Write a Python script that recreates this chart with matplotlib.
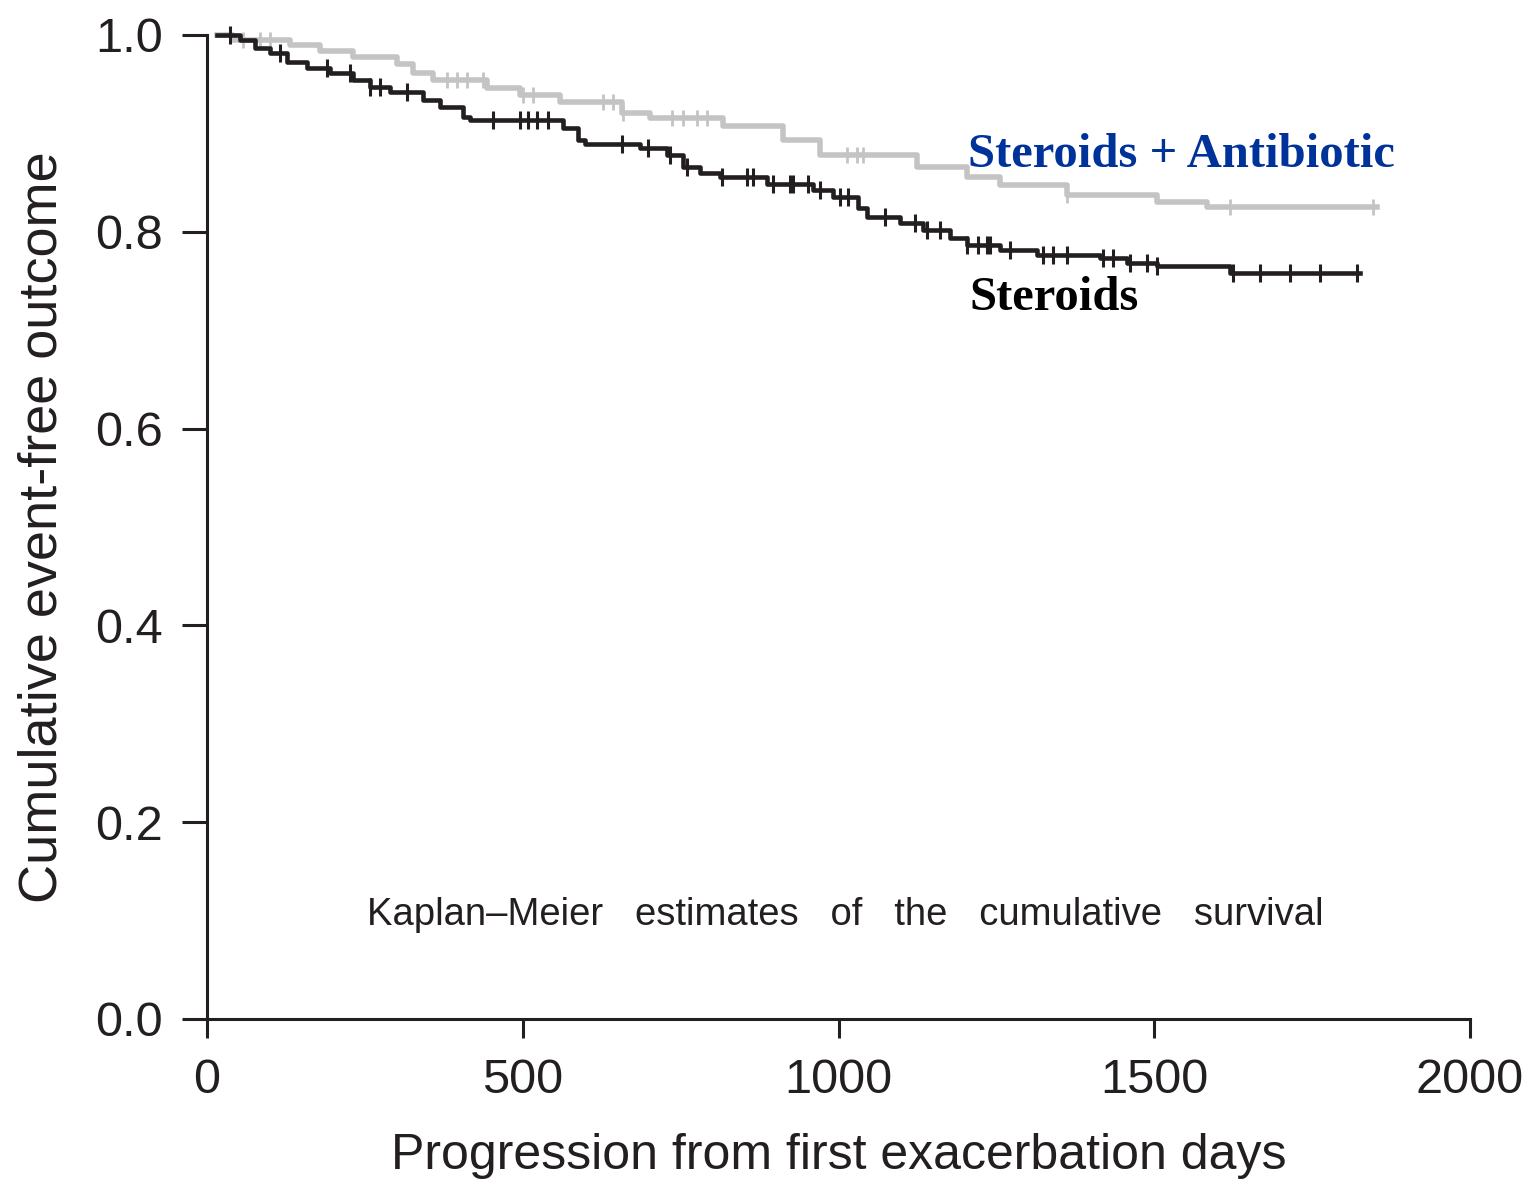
import numpy as np
import matplotlib.pyplot as plt

# Step points (time in days, survival after the step)
steroids_t = [16, 52, 76, 100, 127, 158, 195, 231, 258, 290, 342, 369, 405, 416,
              564, 587, 599, 686, 728, 754, 781, 812, 887, 960, 991, 1031, 1045,
              1097, 1134, 1177, 1203, 1256, 1314, 1414, 1457, 1504, 1620, 1826]
steroids_s = [1.0, 0.995, 0.987, 0.982, 0.973, 0.966, 0.961, 0.954, 0.947, 0.942,
              0.934, 0.927, 0.917, 0.914, 0.905, 0.893, 0.889, 0.885, 0.878, 0.866,
              0.860, 0.856, 0.849, 0.842, 0.835, 0.824, 0.815, 0.809, 0.802, 0.794,
              0.787, 0.781, 0.776, 0.773, 0.768, 0.765, 0.758, 0.758]

combo_t = [16, 41, 131, 179, 231, 301, 326, 358, 443, 496, 559, 657, 701, 817,
           912, 971, 1124, 1203, 1256, 1362, 1504, 1584, 1853]
combo_s = [1.0, 0.995, 0.990, 0.984, 0.978, 0.970, 0.961, 0.954, 0.946, 0.939,
           0.932, 0.921, 0.916, 0.907, 0.893, 0.878, 0.866, 0.856, 0.848, 0.837,
           0.830, 0.825, 0.825]

# Censoring marks
steroids_cens = [36, 116, 190, 226, 258, 274, 317, 453, 496, 508, 522, 540, 657, 698,
                 733, 760, 815, 855, 865, 896, 923, 928, 952, 971, 1003, 1015, 1074,
                 1121, 1140, 1161, 1203, 1221, 1235, 1240, 1272, 1324, 1340, 1362,
                 1419, 1435, 1462, 1488, 1504, 1625, 1667, 1715, 1762, 1821]
combo_cens = [57, 84, 100, 380, 396, 412, 437, 500, 516, 627, 643, 659, 736, 754,
              776, 792, 1013, 1029, 1039, 1362, 1620, 1846]

DARK = '#231f20'
GRAY = '#c4c4c4'

plt.rcParams['font.family'] = ['Liberation Sans', 'DejaVu Sans']


def surv_at(times, surv, x):
    idx = np.searchsorted(times, x, side='right') - 1
    return np.asarray(surv)[np.clip(idx, 0, len(surv) - 1)]


fig = plt.figure(figsize=(15.27, 11.85), dpi=100)
ax = fig.add_axes([0.1356, 0.1401, 0.8271, 0.8304])

ax.step(combo_t, combo_s, where='post', color=GRAY, lw=4, clip_on=False, zorder=2)
ax.plot(combo_cens, surv_at(combo_t, combo_s, combo_cens), ls='none', marker='|',
        ms=12, mew=2, color=GRAY, clip_on=False, zorder=2)
ax.step(steroids_t, steroids_s, where='post', color=DARK, lw=3.3, clip_on=False, zorder=3)
ax.plot(steroids_cens, surv_at(steroids_t, steroids_s, steroids_cens), ls='none',
        marker='|', ms=13, mew=2.2, color=DARK, clip_on=False, zorder=3)

ax.set_xlim(0, 2000)
ax.set_ylim(0, 1.0)
ax.set_xticks([0, 500, 1000, 1500, 2000])
ax.set_yticks([0.0, 0.2, 0.4, 0.6, 0.8, 1.0])
ax.set_yticklabels(['0.0', '0.2', '0.4', '0.6', '0.8', '1.0'])

for s in ['top', 'right']:
    ax.spines[s].set_visible(False)
for s in ['left', 'bottom']:
    ax.spines[s].set_linewidth(2.2)
    ax.spines[s].set_color(DARK)

ax.tick_params(axis='y', direction='out', length=18, width=2.2, pad=14,
               labelsize=35, colors=DARK)
ax.tick_params(axis='x', direction='out', length=14, width=2.2, pad=14,
               labelsize=35, colors=DARK)

ax.set_xlabel('Progression from first exacerbation days', fontsize=36, color=DARK,
              labelpad=22)
ax.set_ylabel('Cumulative event-free outcome', fontsize=39, color=DARK, labelpad=20)

ax.text(1205, 0.866, 'Steroids + Antibiotic', family='Liberation Serif',
        fontweight='bold', fontsize=35, color='#003399', ha='left', va='baseline')
ax.text(1208, 0.72, 'Steroids', family='Liberation Serif', fontweight='bold',
        fontsize=35, color='#000000', ha='left', va='baseline')
ax.text(1010, 0.106, 'Kaplan\u2013Meier   estimates   of   the   cumulative   survival',
        fontsize=27.5, color=DARK, ha='center', va='center')

fig.savefig('out.png', dpi=100)
